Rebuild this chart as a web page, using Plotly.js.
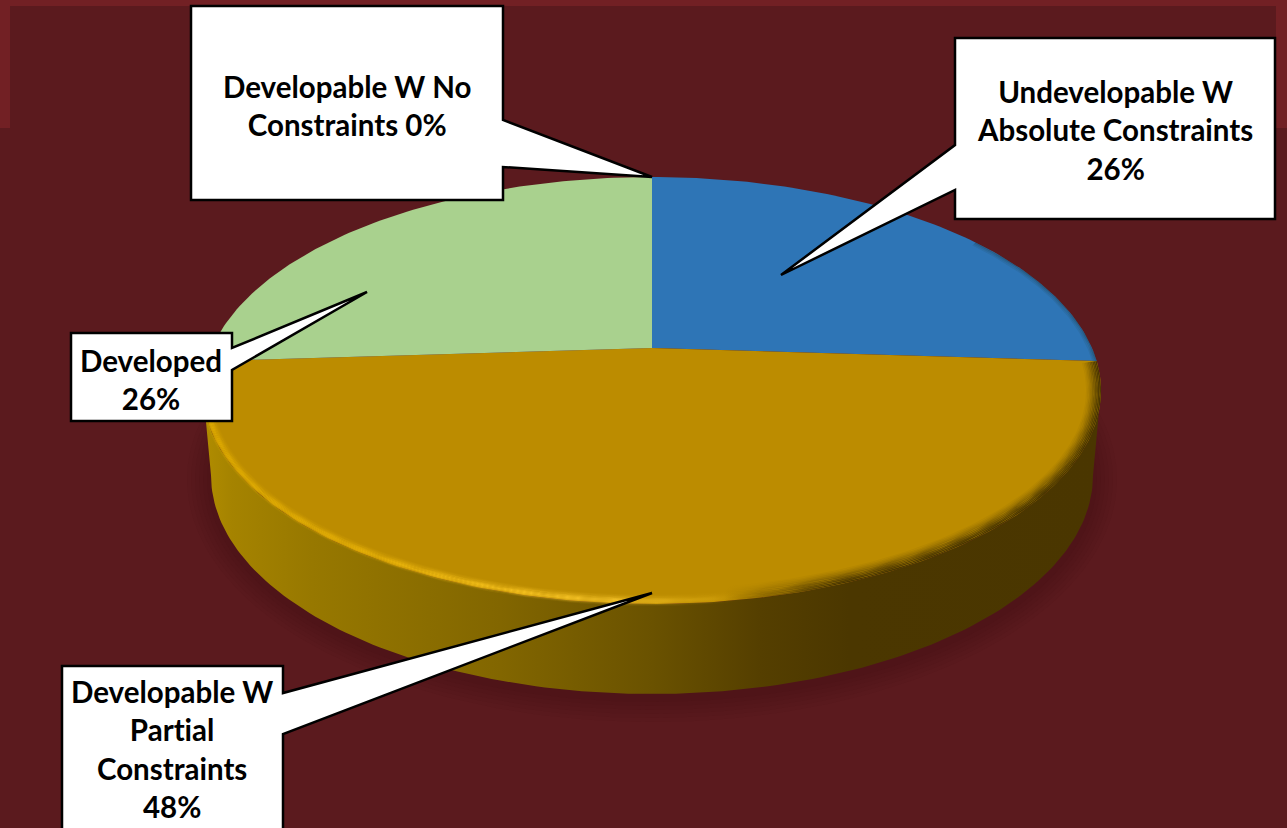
<!DOCTYPE html>
<html>
<head>
<meta charset="utf-8">
<script src="https://cdn.plot.ly/plotly-3.0.1.min.js"></script>
<style>
html,body{margin:0;padding:0;background:#5b1a1e;overflow:hidden}
text{font-variant-ligatures:none;font-feature-settings:"liga" 0}
</style>
</head>
<body>
<div id="chart" style="width:1287px;height:828px"></div>
<script>
// Land capacity split, drawn clockwise from twelve o'clock
const categories = [
  'Undevelopable W Absolute Constraints',
  'Developable W Partial Constraints',
  'Developed',
  'Developable W No Constraints'
];
const values = [26, 48, 26, 0];
const sliceColors = ['#2e75b6', '#bc8c00', '#a9d18e', '#7f7f7f'];
const labelNames = [
  'Undevelopable W<br>Absolute Constraints<br>',
  'Developable W<br>Partial<br>Constraints<br>',
  'Developed<br>',
  'Developable W No<br>Constraints '
];

// Page coordinates for the disc and the call-out boxes
const W = 1287, H = 828;
const CX = 652, PIVOT_Y = 348, TILT = 0.199, RX = 440, RY = 205;
const MID_Y = 390, TOP_RX = 449, TOP_RY = 213;
const BASE_MID_Y = 475, BASE_SX = 441 / 449, BASE_SY = 218 / 213;
const LEFT_T = 258.5, RIGHT_T = 101.5;

// Perspective projection of an angle on the disc rim; angle is clockwise from the top
function rim(deg) {
  const a = deg * Math.PI / 180, u = Math.sin(a), v = Math.cos(a), w = 1 + TILT * v;
  return [CX + RX * u / w, PIVOT_Y - RY * v / w];
}
function insetRim(deg, d) {
  const p = rim(deg);
  return [CX + (p[0] - CX) * (1 - d / TOP_RX), MID_Y + (p[1] - MID_Y) * (1 - d / TOP_RY)];
}
function baseRim(deg) {
  const p = rim(deg);
  return [CX + (p[0] - CX) * BASE_SX, BASE_MID_Y + (p[1] - MID_Y) * BASE_SY];
}
function sweep(from, to, fn) {
  const n = Math.max(2, Math.ceil(Math.abs(to - from))), pts = [];
  for (let i = 0; i <= n; i++) pts.push(fn(from + (to - from) * i / n));
  return pts;
}
function polygon(pts, extra) {
  return Object.assign({
    type: 'scatter', mode: 'lines', x: pts.map(p => p[0]), y: pts.map(p => p[1]),
    fill: 'toself', line: {width: 0}, hoverinfo: 'skip', showlegend: false
  }, extra);
}

const traces = [];

// Soft shadow under the disc
for (let i = 6; i >= 1; i--) {
  const grow = i * 4;
  const ring = sweep(0, 360, t => {
    const p = baseRim(t);
    return [CX + (p[0] - CX) * (1 + grow / 441), BASE_MID_Y + 4 + (p[1] - BASE_MID_Y) * (1 + grow / 218)];
  });
  traces.push(polygon(ring, {fillcolor: 'rgba(50,10,20,0.055)'}));
}

// Side wall
const wallPts = sweep(LEFT_T, RIGHT_T, rim).concat(sweep(RIGHT_T, LEFT_T, baseRim));
traces.push(polygon(wallPts, {
  name: 'wall',
  fillgradient: {
    type: 'horizontal', start: 205, stop: 1100,
    colorscale: [
      [0, '#b08c00'], [0.03, '#a58300'], [0.12, '#977800'], [0.25, '#8a6d00'],
      [0.33, '#826600'], [0.5, '#6a5200'], [0.62, '#553f00'], [0.72, '#4b3700'], [1, '#4a3600']
    ]
  }
}));

// Top faces, one per category, sized from the values
const total = values.reduce((a, b) => a + b, 0);
let angle = 0;
const spans = [];
values.forEach((v, i) => {
  const end = angle + v / total * 360;
  spans.push([angle, end]);
  const pts = [[CX, PIVOT_Y]].concat(sweep(angle, end, rim));
  pts.push([CX, PIVOT_Y]);
  traces.push(polygon(pts, {name: categories[i], fillcolor: sliceColors[i]}));
  angle = end;
});

// Bevel along the front edge: highlight on the lit side, shade on the far side
function band(from, to, d0, d1, stops) {
  const pts = sweep(from, to, t => insetRim(t, d0)).concat(sweep(to, from, t => insetRim(t, d1)));
  return polygon(pts, {fillgradient: {type: 'horizontal', start: 205, stop: 1100, colorscale: stops}});
}
const goldSpan = spans[1];
// Strength of each 1px ring, running from just outside the rim to inside it
const lightProfile = [0.1, 0.28, 0.55, 0.82, 0.95, 0.9, 0.72, 0.5, 0.32, 0.18, 0.08];
lightProfile.forEach((a, i) => {
  const d = -2 + i;
  traces.push(band(goldSpan[0], goldSpan[1], d, d + 1, [
    [0, `rgba(222,170,0,${a})`],
    [0.2, `rgba(232,178,8,${a})`],
    [0.36, `rgba(246,194,32,${a})`],
    [0.46, `rgba(248,198,44,${a * 0.9})`],
    [0.54, `rgba(240,190,30,${a * 0.45})`],
    [0.6, 'rgba(240,190,30,0)'],
    [1, 'rgba(240,190,30,0)']
  ]));
});
const shadeProfile = [1, 0.92, 0.82, 0.7, 0.57, 0.45, 0.33, 0.22, 0.13, 0.06];
shadeProfile.forEach((a, i) => {
  traces.push(band(goldSpan[0], goldSpan[1], i * 1.5, (i + 1) * 1.5, [
    [0, 'rgba(74,54,0,0)'],
    [0.58, 'rgba(74,54,0,0)'],
    [0.7, `rgba(74,54,0,${a})`],
    [1, `rgba(74,54,0,${a})`]
  ]));
});
// Thin darkening on the outer edge of the blue face
[0.5, 0.3, 0.15].forEach((a, i) => {
  traces.push(band(55, spans[0][1], i * 1.5, (i + 1) * 1.5, [
    [0, `rgba(30,70,90,${a})`], [1, `rgba(30,70,90,${a})`]
  ]));
});

// Frame strips of the slide behind the chart
const stripColor = '#722024';
const shapes = [
  {x0: 0, x1: W, y0: 0, y1: 6},
  {x0: 0, x1: 10, y0: 0, y1: 128},
  {x0: 1276, x1: W, y0: 0, y1: 128}
].map(s => Object.assign({type: 'rect', layer: 'below', fillcolor: stripColor, line: {width: 0}}, s));

// Call-out outlines: box with a wedge running to its slice
const calloutPaths = [
  'M955,38 L1275,38 L1275,219 L955,219 L955,190 L781,275 L955,145 Z',
  'M62,666 L283,666 L283,693 L652,593 L283,734 L283,840 L62,840 Z',
  'M71,333 L232,333 L232,348 L367,292 L232,370 L232,421 L71,421 Z',
  'M191,6 L503,6 L503,120 L652,177 L503,167 L503,200 L191,200 Z'
];
calloutPaths.forEach(path => shapes.push({
  type: 'path', path, layer: 'above', fillcolor: '#ffffff', line: {color: '#000000', width: 2.5}
}));

// Call-out text, centred on its box
const labelAnchors = [[1115, 130], [172, 749], [151, 379], [347, 105]];
const annotations = values.map((v, i) => ({
  x: labelAnchors[i][0], y: labelAnchors[i][1], xref: 'x', yref: 'y',
  xanchor: 'center', yanchor: 'middle', align: 'center', showarrow: false,
  text: `<b>${labelNames[i]}${v}%</b>`,
  font: {family: 'Lato, Carlito, sans-serif', size: 29.5, color: '#000000'}
}));

const layout = {
  width: W, height: H, margin: {l: 0, r: 0, t: 0, b: 0, pad: 0},
  paper_bgcolor: '#5b1a1e', plot_bgcolor: '#5b1a1e', showlegend: false,
  xaxis: {range: [0, W], visible: false, fixedrange: true},
  yaxis: {range: [H, 0], visible: false, fixedrange: true},
  shapes, annotations
};
Plotly.newPlot('chart', traces, layout, {displayModeBar: false, staticPlot: true});
</script>
</body>
</html>
